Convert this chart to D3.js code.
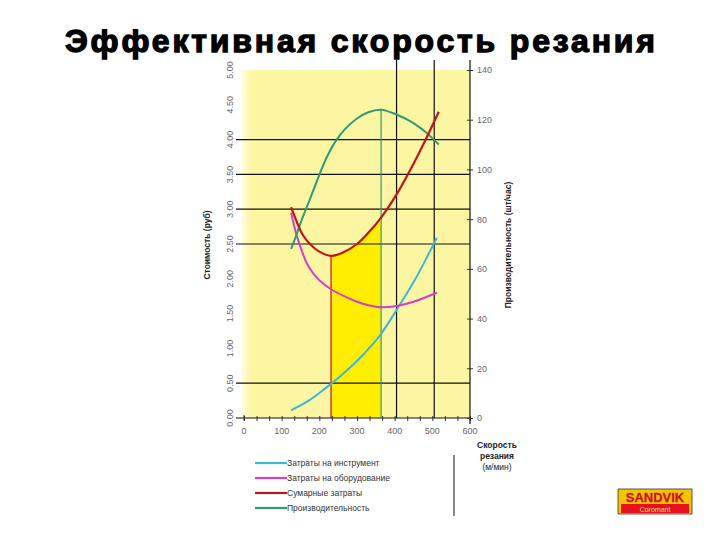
<!DOCTYPE html>
<html><head><meta charset="utf-8">
<script src="https://cdn.jsdelivr.net/npm/d3@7"></script>
<style>html,body{margin:0;padding:0;background:#fff;}svg{display:block;}</style>
</head><body>
<svg id="chart" width="720" height="540"></svg>
<script>
// ---- data ----
const title = "Эффективная скорость резания";
const speedTool = [125, 150, 175, 200, 231, 260, 300, 330, 364, 406, 450, 480, 512];
const toolCost  = [0.11, 0.18, 0.26, 0.36, 0.49, 0.62, 0.82, 0.99, 1.21, 1.56, 1.95, 2.25, 2.59];
const speedEquip = [125, 140, 155, 167, 185, 200, 231, 270, 300, 330, 364, 406, 450, 512];
const equipCost  = [2.95, 2.62, 2.38, 2.22, 2.07, 1.98, 1.85, 1.74, 1.67, 1.62, 1.59, 1.61, 1.67, 1.80];
const speedTotal = [125, 140, 155, 175, 200, 231, 260, 300, 330, 364, 406, 441, 475, 506, 517];
const totalCost  = [3.03, 2.82, 2.64, 2.50, 2.39, 2.33, 2.37, 2.50, 2.66, 2.88, 3.22, 3.56, 3.92, 4.27, 4.40];
const speedProd = [125, 140, 153, 175, 198, 220, 246, 270, 300, 330, 364, 406, 440, 470, 490, 517];
const productivity = [68, 74, 79.6, 88, 97, 105, 112, 116.5, 120.5, 123, 124, 122, 119.5, 116.5, 114, 110];
const costTicks = [0, 0.5, 1, 1.5, 2, 2.5, 3, 3.5, 4, 4.5, 5];
const prodTicks = [0, 20, 40, 60, 80, 100, 120, 140];
const speedTicks = [0, 100, 200, 300, 400, 500, 600];
const costGrid = [0.5, 2.5, 3.0, 3.5, 4.0];
const speedGrid = [405, 505];
const optCostSpeed = 231;
const maxProdSpeed = 364;
const legendLabels = ["Затраты на инструмент", "Затраты на оборудование", "Сумарные затраты", "Производительность"];
const legendColors = ["#3fb6d8", "#d040cc", "#c0141c", "#2f9a78"];
const xTitle = ["Скорость", "резания", "(м/мин)"];
const yTitleLeft = "Стоимость (руб)";
const yTitleRight = "Производительность (шт/час)";

// ---- layout ----
const svg = d3.select("#chart");
const x = d3.scaleLinear().domain([0, 600]).range([244, 470]);
const yC = d3.scaleLinear().domain([0, 5]).range([418, 70]);
const yP = d3.scaleLinear().domain([0, 140]).range([418, 70]);
const FONT = "Liberation Sans, Arial, sans-serif";

// title
svg.append("text").attr("x", 65).attr("y", 52)
  .attr("font-family", FONT)
  .attr("font-weight", "bold").attr("font-size", 32)
  .attr("textLength", 590).attr("lengthAdjust", "spacing")
  .attr("stroke", "#000").attr("stroke-width", 1.3)
  .text(title);

// plot background
const defs = svg.append("defs");
const grad = defs.append("linearGradient").attr("id", "bgGrad")
  .attr("x1", "0").attr("x2", "1").attr("y1", "0").attr("y2", "0");
grad.append("stop").attr("offset", "0").attr("stop-color", "#fffde0");
grad.append("stop").attr("offset", "0.04").attr("stop-color", "#fcf6a2");
grad.append("stop").attr("offset", "1").attr("stop-color", "#fcf6a2");
svg.append("rect").attr("x", x(0) - 2).attr("y", yC(5))
  .attr("width", x(600) - x(0) + 2).attr("height", yC(0) - yC(5))
  .attr("fill", "url(#bgGrad)");

const curve = d3.curveCatmullRom.alpha(0.5);

// highlight area under total cost between optimal speeds
defs.append("clipPath").attr("id", "hiClip").append("rect")
  .attr("x", x(optCostSpeed)).attr("y", 0)
  .attr("width", x(maxProdSpeed) - x(optCostSpeed)).attr("height", yC(0));
svg.append("path").datum(totalCost)
  .attr("d", d3.area().x((d, i) => x(speedTotal[i])).y0(yC(0)).y1(d => yC(d)).curve(curve))
  .attr("clip-path", "url(#hiClip)")
  .attr("fill", "#ffee00");

// grid lines
svg.selectAll(".hg").data(costGrid).enter().append("line")
  .attr("x1", 236).attr("x2", x(600)).attr("y1", d => yC(d)).attr("y2", d => yC(d))
  .attr("stroke", "#111").attr("stroke-width", 1.2);
svg.selectAll(".vg").data(speedGrid).enter().append("line")
  .attr("x1", d => x(d)).attr("x2", d => x(d)).attr("y1", 60).attr("y2", yC(0))
  .attr("stroke", "#111").attr("stroke-width", 1.2);

// x axis
const xAxis = d3.axisBottom(x).tickValues(d3.range(0, 601, 100 / 3)).tickSize(3).tickFormat("");
const gx = svg.append("g").attr("transform", `translate(0,${yC(0)})`).call(xAxis);
gx.select(".domain").attr("d", `M236,0H${x(600)}`).attr("stroke", "#111").attr("stroke-width", 1.2);
gx.selectAll(".tick line").attr("y1", -2).attr("y2", 3).attr("stroke", "#333");
svg.selectAll(".xl").data(speedTicks).enter().append("text")
  .attr("x", d => x(d)).attr("y", 434).attr("text-anchor", "middle")
  .attr("font-family", FONT).attr("font-size", 9).attr("fill", "#666")
  .text(d => d);

// left axis labels (rotated)
svg.selectAll(".yl").data(costTicks).enter().append("text")
  .attr("transform", d => `translate(233,${yC(d)}) rotate(-90)`)
  .attr("text-anchor", "middle")
  .attr("font-family", FONT).attr("font-size", 9).attr("fill", "#666")
  .text(d => d3.format(".2f")(d));
svg.append("line").attr("x1", x(0)).attr("x2", x(0)).attr("y1", yC(0) - 3).attr("y2", yC(0) + 3).attr("stroke", "#333");

// right axis
const yAxisR = d3.axisRight(yP).tickValues(prodTicks).tickSize(3).tickFormat(d3.format("d"));
const gr = svg.append("g").attr("transform", `translate(${x(600)},0)`).call(yAxisR);
gr.select(".domain").attr("d", `M0,60V424`).attr("stroke", "#111").attr("stroke-width", 1.2);
gr.selectAll(".tick line").attr("x1", -3).attr("x2", 3).attr("stroke", "#333");
gr.selectAll(".tick text").attr("x", 7).attr("font-family", FONT)
  .attr("font-size", 9).attr("fill", "#666");

// axis titles
svg.append("text").attr("transform", "translate(210,245) rotate(-90)").attr("text-anchor", "middle")
  .attr("font-family", FONT).attr("font-size", 8.5).attr("font-weight", "bold").attr("fill", "#222")
  .text(yTitleLeft);
svg.append("text").attr("transform", "translate(511,245) rotate(-90)").attr("text-anchor", "middle")
  .attr("font-family", FONT).attr("font-size", 8.5).attr("font-weight", "bold").attr("fill", "#222")
  .text(yTitleRight);
svg.selectAll(".xt").data(xTitle).enter().append("text")
  .attr("x", 497).attr("y", (d, i) => 448 + i * 11).attr("text-anchor", "middle")
  .attr("font-family", FONT).attr("font-size", 8.5).attr("font-weight", (d, i) => i < 2 ? "bold" : "normal").attr("fill", "#222")
  .text(d => d);

// curves
const lineC = (xs, ys) => d3.line().x((d, i) => x(xs[i])).y(d => yC(d)).curve(curve)(ys);
const lineP = (xs, ys) => d3.line().x((d, i) => x(xs[i])).y(d => yP(d)).curve(curve)(ys);

// vertical markers
const optIdx = speedTotal.indexOf(optCostSpeed);
svg.append("line").attr("x1", x(optCostSpeed)).attr("x2", x(optCostSpeed))
  .attr("y1", yC(0)).attr("y2", yC(totalCost[optIdx])).attr("stroke", "#c0141c").attr("stroke-width", 1.2);
const prodIdx = speedProd.indexOf(maxProdSpeed);
svg.append("line").attr("x1", x(maxProdSpeed)).attr("x2", x(maxProdSpeed))
  .attr("y1", yC(0)).attr("y2", yP(productivity[prodIdx])).attr("stroke", "#2f9a78").attr("stroke-width", 1.2);

svg.append("path").attr("d", lineC(speedTool, toolCost)).attr("fill", "none").attr("stroke", legendColors[0]).attr("stroke-width", 2);
svg.append("path").attr("d", lineC(speedEquip, equipCost)).attr("fill", "none").attr("stroke", legendColors[1]).attr("stroke-width", 2);
svg.append("path").attr("d", lineP(speedProd, productivity)).attr("fill", "none").attr("stroke", legendColors[3]).attr("stroke-width", 2);
svg.append("path").attr("d", lineC(speedTotal, totalCost)).attr("fill", "none").attr("stroke", legendColors[2]).attr("stroke-width", 2.2);

// legend
const lg = svg.selectAll(".lg").data(legendLabels).enter().append("g")
  .attr("transform", (d, i) => `translate(255,${463 + i * 15})`);
lg.append("line").attr("x1", 0).attr("x2", 32).attr("stroke", (d, i) => legendColors[i]).attr("stroke-width", 2.2);
lg.append("text").attr("x", 32).attr("y", 3).attr("font-family", FONT)
  .attr("font-size", 8.5).attr("fill", "#333").text(d => d);

// separator
svg.append("line").attr("x1", 454).attr("x2", 454).attr("y1", 455).attr("y2", 516).attr("stroke", "#111");

// logo
const logo = svg.append("g").attr("transform", "translate(618,489)");
logo.append("rect").attr("width", 74).attr("height", 25).attr("fill", "#f5c400").attr("stroke", "#333").attr("stroke-width", 0.8);
logo.append("rect").attr("x", 3).attr("y", 15).attr("width", 68).attr("height", 9).attr("fill", "#e8101a");
logo.append("text").attr("x", 37).attr("y", 12.5).attr("text-anchor", "middle")
  .attr("font-family", FONT).attr("font-weight", "bold").attr("font-size", 13)
  .attr("fill", "#d0101a").attr("stroke", "#d0101a").attr("stroke-width", 0.3).text("SANDVIK");
logo.append("text").attr("x", 37).attr("y", 22.8).attr("text-anchor", "middle")
  .attr("font-family", FONT).attr("font-size", 7)
  .attr("fill", "#ffe27a").text("Coromant");
</script>
</body></html>
